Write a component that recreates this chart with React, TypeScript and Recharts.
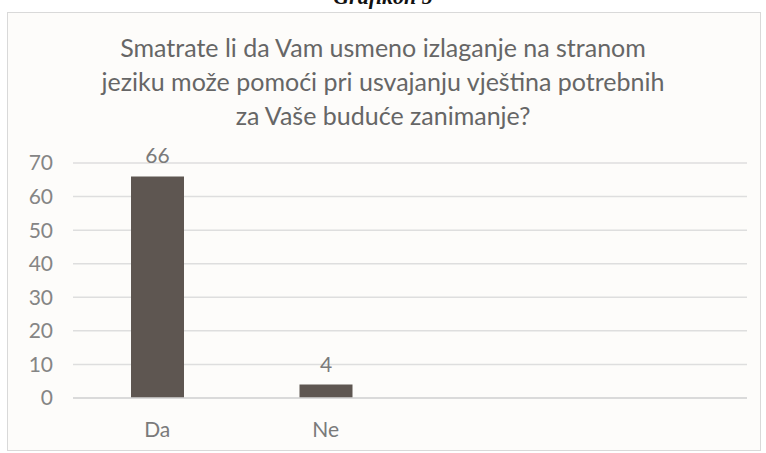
import React from 'react';
import { BarChart, Bar, XAxis, YAxis, CartesianGrid, LabelList } from 'recharts';

const categories = ['Da', 'Ne', '', ''];
const answers = [66, 4, null, null];
const yTicks = [0, 10, 20, 30, 40, 50, 60, 70];

const data = categories.map((name, i) => ({ name, value: answers[i] }));

const titleLines = [
  'Smatrate li da Vam usmeno izlaganje na stranom',
  'jeziku može pomoći pri usvajanju vještina potrebnih',
  'za Vaše buduće zanimanje?',
];

const font = 'Lato, sans-serif';

export default function App() {
  return (
    <div style={{ position: 'fixed', left: 0, top: 0, width: 766, height: 453, background: '#fff', overflow: 'hidden' }}>
      <div
        style={{
          position: 'absolute',
          top: -16,
          left: 0,
          width: 766,
          textAlign: 'center',
          fontFamily: '"Liberation Serif", serif',
          fontStyle: 'italic',
          fontWeight: 'bold',
          fontSize: 22,
          color: '#111',
        }}
      >
        Grafikon 5
      </div>
      <div
        style={{
          position: 'absolute',
          left: 7,
          top: 12,
          width: 752,
          height: 437,
          border: '1px solid #d9d9d9',
          background: '#fdfcfa',
        }}
      />
      <div
        style={{
          position: 'absolute',
          top: 30,
          left: 0,
          width: 766,
          textAlign: 'center',
          fontFamily: font,
          fontSize: 25,
          lineHeight: '34px',
          color: '#666',
        }}
      >
        {titleLines.map((t) => (
          <div key={t}>{t}</div>
        ))}
      </div>
      <div style={{ position: 'absolute', left: 0, top: 0 }}>
        <BarChart
          width={766}
          height={453}
          data={data}
          margin={{ top: 163, right: 19, left: 0, bottom: 0 }}
          barCategoryGap={0}
        >
          <CartesianGrid vertical={false} stroke="#dedede" strokeWidth={1.5} />
          <XAxis
            dataKey="name"
            axisLine={{ stroke: '#d6d6d6', strokeWidth: 1.5 }}
            tickLine={false}
            tickMargin={18}
            tick={{ fill: '#7a7a7a', fontSize: 21, fontFamily: font }}
            height={55}
          />
          <YAxis
            width={73}
            domain={[0, 70]}
            ticks={yTicks}
            axisLine={false}
            tickLine={false}
            tickMargin={14}
            tick={{ fill: '#858585', fontSize: 21, fontFamily: font }}
          />
          <Bar dataKey="value" fill="#5e5651" barSize={53} isAnimationActive={false}>
            <LabelList
              dataKey="value"
              position="top"
              offset={13}
              fill="#7a7a7a"
              fontSize={21}
              fontFamily={font}
            />
          </Bar>
        </BarChart>
      </div>
    </div>
  );
}
